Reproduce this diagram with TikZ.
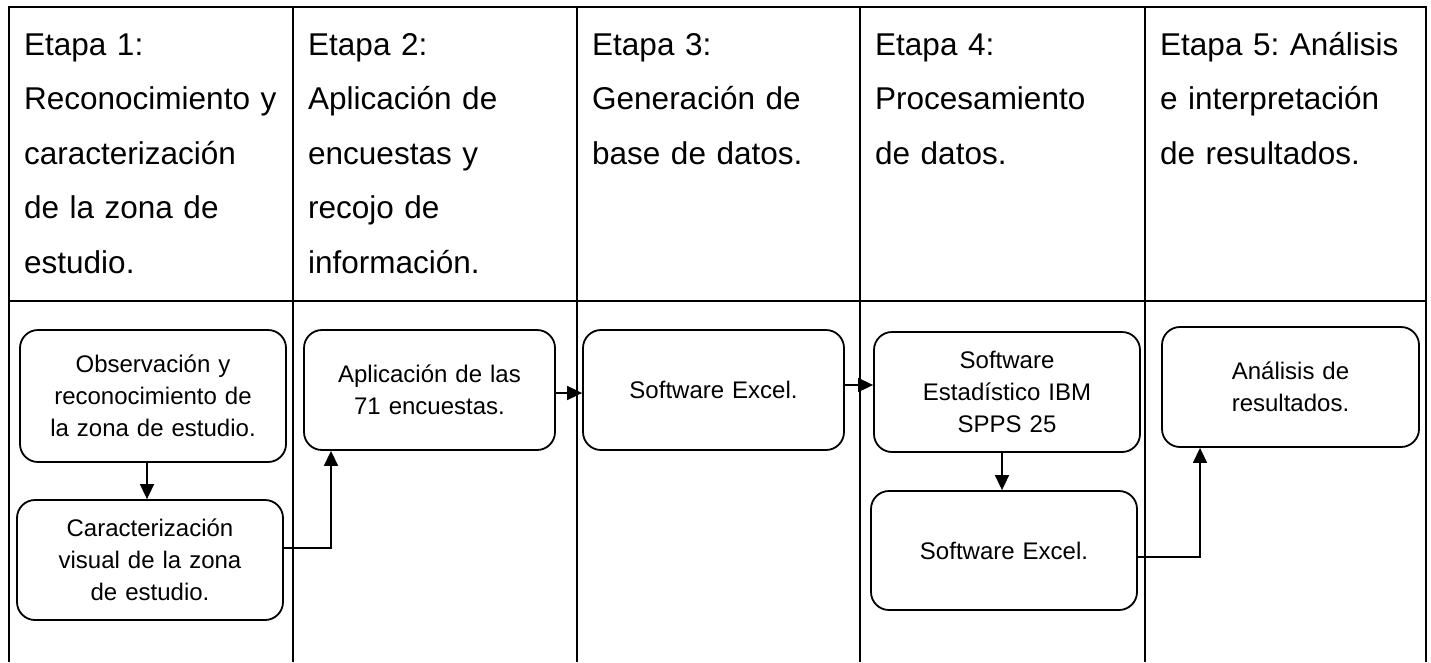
\documentclass[tikz,border=0pt]{standalone}
\usepackage{fontspec}
\setmainfont{Liberation Sans}
\usetikzlibrary{arrows.meta}
\frenchspacing
\begin{document}
\begin{tikzpicture}[x=1pt,y=-1pt,
  grid/.style={line width=2.4pt, line join=miter},
  proc/.style={draw, line width=1.8pt, rounded corners=18pt, align=center, inner sep=0pt, text width=250pt, font=\fontsize{24}{32}\selectfont},
  arr/.style={line width=1.6pt, -{Triangle[length=15pt,width=14pt]}},
  head/.style={anchor=north west, inner sep=0pt, align=left, text width=268pt, font=\fontsize{31.5}{54.5}\selectfont}]
\fill[white] (0,0) rectangle (1431,662);
\useasboundingbox (0,0) rectangle (1431,662);
% table
\draw[grid] (9,662) -- (9,7) -- (1426,7) -- (1426,662);
\draw[grid] (9,301) -- (1426,301);
\foreach \xx in {293,577,860,1145} \draw[grid] (\xx,7) -- (\xx,662);
% headers
\node[head] (h1) at (24,16.85) {\strut Etapa 1:\\Reconocimiento y\\caracterización\\de la zona de\\estudio.};
\node[head] (h2) at (308,16.85) {\strut Etapa 2:\\Aplicación de\\encuestas y\\recojo de\\información.};
\node[head] (h3) at (592,16.85) {\strut Etapa 3:\\Generación de\\base de datos.};
\node[head] (h4) at (875,16.85) {\strut Etapa 4:\\Procesamiento\\de datos.};
\node[head] (h5) at (1160,16.85) {\strut Etapa 5: Análisis\\e interpretación\\de resultados.};
% process boxes
\node[proc, minimum width=266pt, minimum height=132pt] (A) at (153,396) {Observación y\\reconocimiento de\\la zona de estudio.};
\node[proc, minimum width=266pt, minimum height=120pt] (B) at (150,560) {Caracterización\\visual de la zona\\de estudio.};
\node[proc, minimum width=251pt, minimum height=120pt] (C) at (429.5,390) {Aplicación de las\\71 encuestas.};
\node[proc, minimum width=261pt, minimum height=120pt] (D) at (713.5,390) {Software Excel.};
\node[proc, minimum width=266pt, minimum height=120pt] (E) at (1007,392) {Software\\Estadístico IBM\\SPPS 25};
\node[proc, minimum width=266pt, minimum height=119pt] (F) at (1004,550.5) {Software Excel.};
\node[proc, minimum width=257pt, minimum height=120pt] (G) at (1290.5,387) {Análisis de\\resultados.};
% connectors
\draw[arr] ([xshift=-6pt]A.south) -- ([xshift=-6pt]A.south |- B.north);
\draw[arr] ([yshift=12pt]B.east) -| ([xshift=-98.5pt]C.south);
\draw[arr] ([yshift=-3pt]C.east) -- ([yshift=-3pt]C.east -| D.west);
\draw[arr] ([yshift=5pt]D.east) -- ([yshift=5pt]D.east -| E.west);
\draw[arr] ([xshift=-5pt]E.south) -- ([xshift=-5pt]E.south |- F.north);
\draw[arr] ([yshift=-6.5pt]F.east) -| ([xshift=-90.5pt]G.south);
\end{tikzpicture}
\end{document}
